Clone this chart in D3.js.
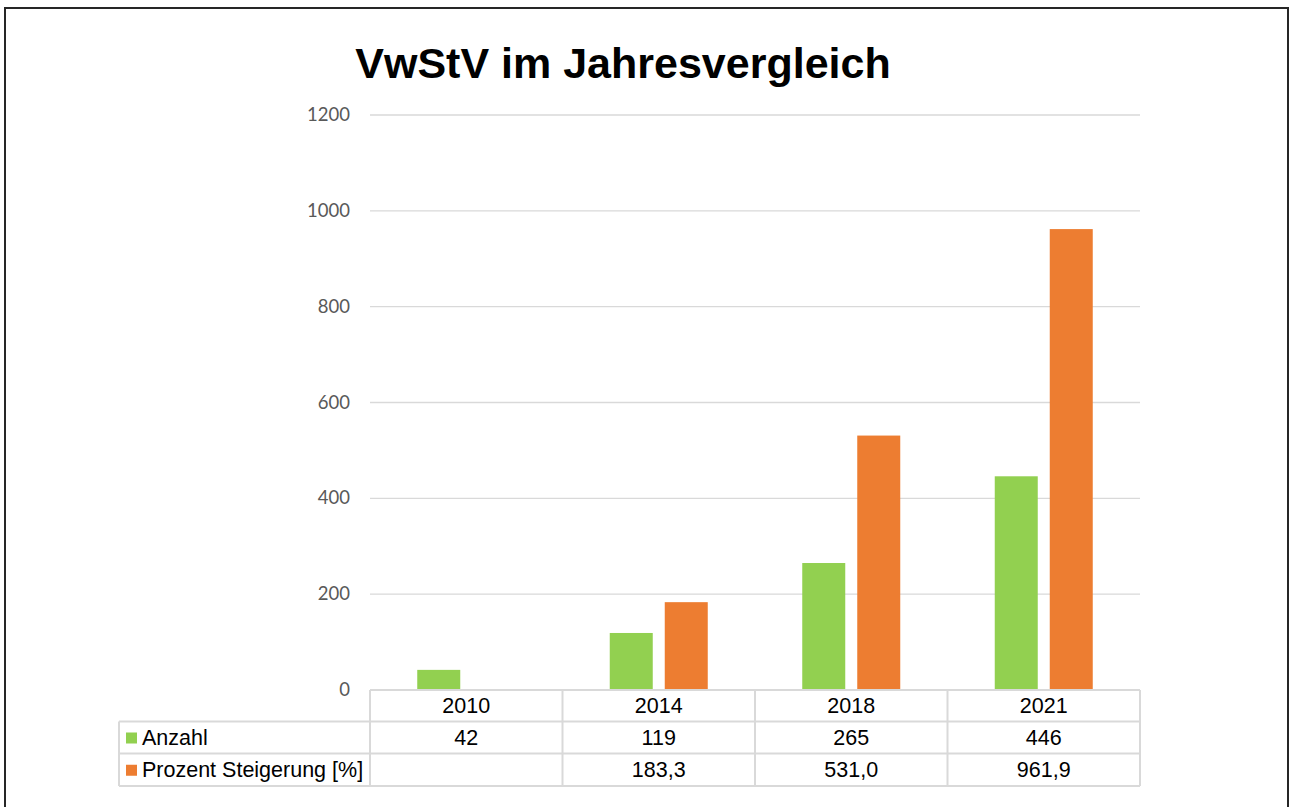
<!DOCTYPE html>
<html>
<head>
<meta charset="utf-8">
<script src="https://cdn.jsdelivr.net/npm/d3@7"></script>
<style>
  body { margin: 0; background: #fff; }
  svg { display: block; }
</style>
</head>
<body>
<script>
// data
var years = ['2010', '2014', '2018', '2021'];
var anzahl = [42, 119, 265, 446];
var prozent = [null, 183.3, 531.0, 961.9];
var prozentLabels = ['', '183,3', '531,0', '961,9'];
var yTicks = [0, 200, 400, 600, 800, 1000, 1200];
var seriesNames = ['Anzahl', 'Prozent Steigerung [%]'];
var seriesColors = ['#92D050', '#ED7D31'];

var svg = d3.select('body').append('svg')
    .attr('width', 1290)
    .attr('height', 807);

// outer frame
svg.append('rect')
    .attr('x', 5)
    .attr('y', 8)
    .attr('width', 1283)
    .attr('height', 820)
    .attr('fill', 'none')
    .attr('stroke', '#262626')
    .attr('stroke-width', 2);

svg.append('text')
    .attr('x', 623)
    .attr('y', 78)
    .attr('text-anchor', 'middle')
    .attr('font-family', 'Liberation Sans, Arial, sans-serif')
    .attr('font-weight', 'bold')
    .attr('font-size', 43)
    .attr('fill', '#000')
    .text('VwStV im Jahresvergleich');

var x = d3.scaleBand()
    .domain(years)
    .range([370, 1140]);

var y = d3.scaleLinear()
    .domain([0, 1200])
    .range([690, 115]);

// gridlines
svg.append('g')
    .selectAll('line')
    .data(yTicks.slice(1))
    .enter().append('line')
    .attr('x1', 370)
    .attr('x2', 1140)
    .attr('y1', function(d) { return y(d); })
    .attr('y2', function(d) { return y(d); })
    .attr('stroke', '#D9D9D9')
    .attr('stroke-width', 1.3);

// y tick labels
svg.append('g')
    .selectAll('text')
    .data(yTicks)
    .enter().append('text')
    .attr('x', 350)
    .attr('y', function(d) { return y(d) + 6; })
    .attr('text-anchor', 'end')
    .attr('font-family', 'Lato, Open Sans, sans-serif')
    .attr('font-size', 18.5)
    .attr('fill', '#595959')
    .text(function(d) { return d; });

var barW = 43, gap = 12;

svg.append('g')
    .selectAll('rect')
    .data(anzahl)
    .enter().append('rect')
    .attr('x', function(d, i) { return x(years[i]) + x.bandwidth() / 2 - barW - gap / 2; })
    .attr('y', function(d) { return y(d); })
    .attr('width', barW)
    .attr('height', function(d) { return y(0) - y(d); })
    .attr('fill', seriesColors[0]);

svg.append('g')
    .selectAll('rect')
    .data(prozent.filter(function(d) { return d != null; }).map(function(d) {
        return { v: d, yr: years[prozent.indexOf(d)] };
    }))
    .enter().append('rect')
    .attr('x', function(d) { return x(d.yr) + x.bandwidth() / 2 + gap / 2; })
    .attr('y', function(d) { return y(d.v); })
    .attr('width', barW)
    .attr('height', function(d) { return y(0) - y(d.v); })
    .attr('fill', seriesColors[1]);

// data table
var tbl = svg.append('g');
var rowY = [690, 721.5, 753.5, 786];
var gridCol = '#D9D9D9';

tbl.append('line').attr('x1', 370).attr('x2', 1140).attr('y1', rowY[0]).attr('y2', rowY[0])
    .attr('stroke', gridCol).attr('stroke-width', 2);
[1, 2, 3].forEach(function(r) {
    tbl.append('line').attr('x1', 119).attr('x2', 1140).attr('y1', rowY[r]).attr('y2', rowY[r])
        .attr('stroke', gridCol).attr('stroke-width', 2);
});
tbl.append('line').attr('x1', 119).attr('x2', 119).attr('y1', rowY[1]).attr('y2', rowY[3])
    .attr('stroke', gridCol).attr('stroke-width', 2);
years.forEach(function(yr) {
    tbl.append('line').attr('x1', x(yr)).attr('x2', x(yr)).attr('y1', rowY[0]).attr('y2', rowY[3])
        .attr('stroke', gridCol).attr('stroke-width', 2);
});
tbl.append('line').attr('x1', 1140).attr('x2', 1140).attr('y1', rowY[0]).attr('y2', rowY[3])
    .attr('stroke', gridCol).attr('stroke-width', 2);

var tf = 'Liberation Sans, Arial, sans-serif';
var rows = [years, anzahl, prozentLabels];
rows.forEach(function(vals, r) {
    tbl.append('g').selectAll('text')
        .data(vals)
        .enter().append('text')
        .attr('x', function(d, i) { return x(years[i]) + x.bandwidth() / 2; })
        .attr('y', (rowY[r] + rowY[r + 1]) / 2 + 7.5)
        .attr('text-anchor', 'middle')
        .attr('font-family', tf)
        .attr('font-size', 21.5)
        .attr('fill', '#000')
        .text(function(d) { return d; });
});

seriesNames.forEach(function(name, r) {
    var cy = (rowY[r + 1] + rowY[r + 2]) / 2;
    tbl.append('rect')
        .attr('x', 126).attr('y', cy - 5)
        .attr('width', 11).attr('height', 11)
        .attr('fill', seriesColors[r]);
    tbl.append('text')
        .attr('x', 142)
        .attr('y', cy + 7.5)
        .attr('font-family', tf)
        .attr('font-size', 21.5)
        .attr('fill', '#000')
        .text(name);
});
</script>
</body>
</html>
